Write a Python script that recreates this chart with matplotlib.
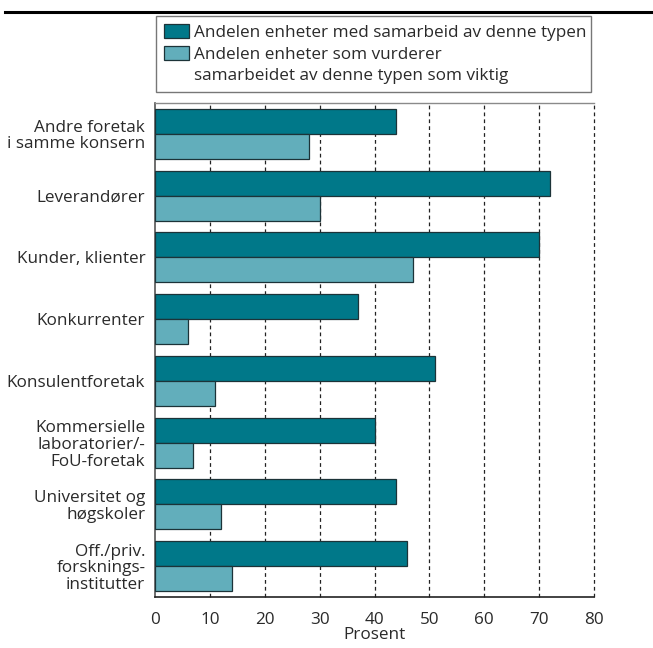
import matplotlib
matplotlib.use("Agg")
import matplotlib.pyplot as plt
from matplotlib.patches import Rectangle
from matplotlib.lines import Line2D
import numpy as np

plt.rcParams['font.family'] = ['Open Sans', 'DejaVu Sans']

categories = [
    "Andre foretak\ni samme konsern",
    "Leverandører",
    "Kunder, klienter",
    "Konkurrenter",
    "Konsulentforetak",
    "Kommersielle\nlaboratorier/-\nFoU-foretak",
    "Universitet og\nhøgskoler",
    "Off./priv.\nforsknings-\ninstitutter",
]
samarbeid = [44, 72, 70, 37, 51, 40, 44, 46]
viktig = [28, 30, 47, 6, 11, 7, 12, 14]
series_labels = [
    "Andelen enheter med samarbeid av denne typen",
    "Andelen enheter som vurderer",
    "samarbeidet av denne typen som viktig",
]
xticks = [0, 10, 20, 30, 40, 50, 60, 70, 80]
xlabel = "Prosent"

dark = "#007889"
light = "#62AEBB"
edge = "#1c3338"
txt = "#2a2a2a"
fs = 12.3

W, H = 653, 648
fig = plt.figure(figsize=(W / 100, H / 100), dpi=100)
ax = fig.add_axes([155 / W, 1 - 597 / H, (594 - 155) / W, (597 - 103) / H])

y = np.arange(len(categories))
bh = 25 / 62
b1 = ax.barh(y - bh / 2, samarbeid, height=bh, color=dark, edgecolor=edge, linewidth=0.9, zorder=3)
b2 = ax.barh(y + bh / 2, viktig, height=bh, color=light, edgecolor=edge, linewidth=0.9, zorder=3)

ax.set_xlim(0, 80)
ax.set_ylim(len(categories) - 0.5, -0.5)
ax.set_xticks(xticks)
ax.set_xticklabels([str(t) for t in xticks], fontsize=fs, color=txt)
ax.set_yticks(y)
ax.set_yticklabels(categories, fontsize=fs, color=txt, linespacing=1.05)
ax.tick_params(axis='both', length=0)
ax.tick_params(axis='x', pad=11)
ax.tick_params(axis='y', pad=7)
ax.set_xlabel(xlabel, fontsize=fs, color=txt, labelpad=-1)

for t in xticks[1:]:
    ax.axvline(t, color="#222222", linestyle=(0, (3, 2.5)), linewidth=0.9, zorder=1, clip_on=False)

ax.spines['right'].set_visible(False)
ax.spines['top'].set_color("#8a8a8a")
ax.spines['top'].set_linewidth(1.0)
ax.spines['left'].set_color("#555555")
ax.spines['left'].set_linewidth(1.2)
ax.spines['bottom'].set_color("#222222")
ax.spines['bottom'].set_linewidth(1.2)

blank = Rectangle((0, 0), 1, 1, fill=False, edgecolor='none', linewidth=0)
leg = fig.legend([b1, b2, blank], series_labels,
                 loc='upper left',
                 bbox_to_anchor=(156 / W, 1 - 17 / H, (591 - 156) / W, 0.001),
                 mode='expand', borderaxespad=0, frameon=True, fancybox=False,
                 fontsize=fs, handlelength=1.5, handleheight=0.85, handletextpad=0.3,
                 labelspacing=0.3, borderpad=0.45, labelcolor=txt)
leg.get_frame().set_edgecolor("#555555")
leg.get_frame().set_linewidth(1.0)

fig.add_artist(Line2D([5 / W, 1.0], [1 - 12 / H, 1 - 12 / H], color='black', linewidth=2.2))

fig.savefig("out.png", dpi=100)
